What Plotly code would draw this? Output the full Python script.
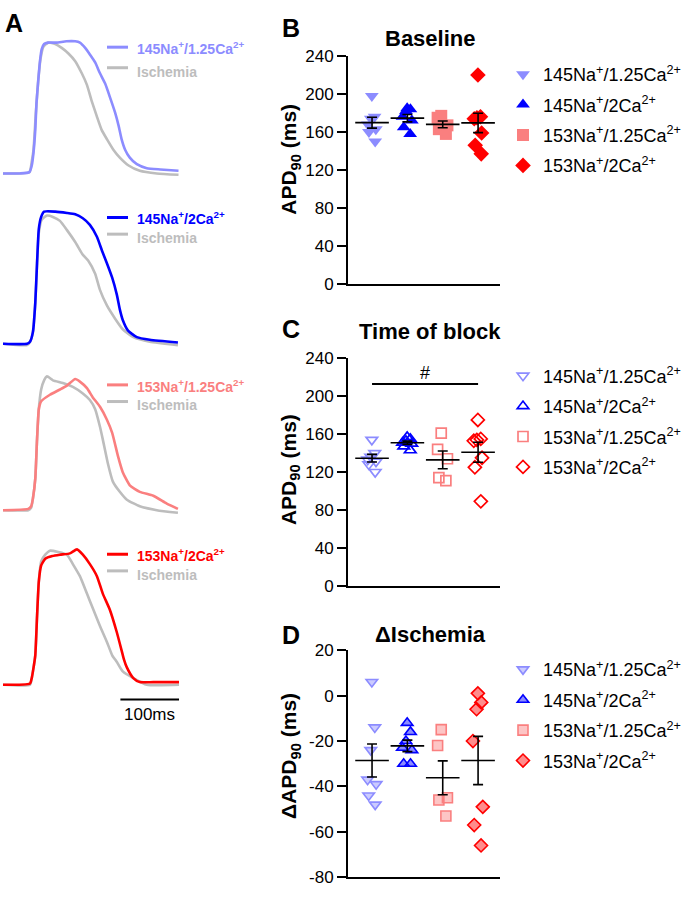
import numpy as np
import plotly.graph_objects as go

W, H = 695, 900
FONT = "Liberation Sans, Arial, Helvetica, sans-serif"

# ---------------- data ----------------
group_names = ["145Na<sup>+</sup>/1.25Ca<sup>2+</sup>", "145Na<sup>+</sup>/2Ca<sup>2+</sup>",
               "153Na<sup>+</sup>/1.25Ca<sup>2+</sup>", "153Na<sup>+</sup>/2Ca<sup>2+</sup>"]
group_pos = [1, 2, 3, 4]
group_colors = ["#8C8CFF", "#0000FF", "#FA7F7F", "#FF0000"]
group_fill_half = ["rgba(140,140,255,0.45)", "rgba(0,0,255,0.45)", "rgba(250,127,127,0.45)", "rgba(255,0,0,0.45)"]
group_symbols = ["triangle-down", "triangle-up", "square", "diamond"]

# Panel B: baseline APD90 (ms)
base_145_125 = [198, 176, 174, 168, 163, 160, 150]
base_145_2 = [185, 184, 182, 176, 172, 165, 158]
base_153_125 = [177, 175, 167, 163, 158]
base_153_2 = [220, 176, 175, 174, 159, 146, 137]
# Panel C: time of block APD90 (ms)
block_145_125 = [154, 140, 136, 133, 131, 128, 120]
block_145_2 = [157, 155, 153, 151, 150, 147, 143]
block_153_125 = [161, 144, 134, 114, 111]
block_153_2 = [175, 155, 154, 153, 135, 125, 89]
# Panel D: delta ischemia APD90 (ms)
d_145_125 = [6, -14, -24, -37, -39, -44, -48]
d_145_2 = [-12, -16, -20, -23, -24, -30, -30]
d_153_125 = [-15, -22, -45, -46, -53]
d_153_2 = [1, -3, -6, -20, -49, -57, -66]

apd_ticks = [0, 40, 80, 120, 160, 200, 240]
d_ticks = [-80, -60, -40, -20, 0, 20]
sig_line_y = 213
sig_text_y = 225

# Panel A: optical action potentials (time in ms, normalized amplitude)
t_145_125 = [0, 29, 45, 49, 52, 55, 57, 60, 63, 66, 70, 77, 91, 108, 123, 131, 140, 148, 157, 165, 174, 182, 191, 197, 202, 208, 216, 228, 245, 268, 299]
v_145_125 = [0, 0, 0.01, 0.06, 0.16, 0.33, 0.53, 0.70, 0.85, 0.94, 0.98, 0.99, 0.99, 1.0, 1.0, 0.99, 0.95, 0.90, 0.84, 0.76, 0.68, 0.58, 0.46, 0.36, 0.26, 0.18, 0.12, 0.07, 0.04, 0.03, 0.02]
t_isch1 = [0, 45, 49, 52, 56, 60, 64, 69, 77, 89, 100, 111, 123, 134, 143, 151, 160, 168, 177, 188, 199, 214, 233, 262, 299]
v_isch1 = [0, 0.01, 0.09, 0.18, 0.46, 0.70, 0.87, 0.96, 0.99, 0.98, 0.95, 0.91, 0.85, 0.76, 0.67, 0.55, 0.43, 0.33, 0.26, 0.18, 0.12, 0.06, 0.02, 0.0, -0.01]

t_145_2 = [0, 41, 46, 51, 55, 58, 61, 65, 70, 89, 109, 123, 136, 148, 160, 169, 177, 186, 194, 199, 204, 213, 228, 250, 298]
v_145_2 = [0, 0, 0.015, 0.09, 0.31, 0.61, 0.87, 0.96, 1.0, 1.0, 0.99, 0.98, 0.95, 0.90, 0.81, 0.70, 0.61, 0.50, 0.37, 0.26, 0.18, 0.10, 0.05, 0.03, 0.01]
t_isch2 = [0, 41, 46, 51, 55, 58, 61, 66, 75, 85, 97, 109, 123, 135, 145, 157, 165, 177, 191, 204, 222, 250, 298]
v_isch2 = [0, -0.01, 0.015, 0.09, 0.31, 0.61, 0.84, 0.94, 0.97, 0.96, 0.93, 0.86, 0.77, 0.68, 0.63, 0.53, 0.41, 0.29, 0.19, 0.11, 0.05, 0.015, -0.01]

t_153_125 = [0, 43, 48, 51, 55, 58, 61, 65, 80, 97, 109, 123, 131, 143, 153, 165, 177, 186, 196, 204, 216, 233, 256, 279, 298]
v_153_125 = [0, 0.01, 0.03, 0.09, 0.24, 0.54, 0.77, 0.83, 0.88, 0.92, 0.95, 1.0, 0.98, 0.93, 0.86, 0.79, 0.69, 0.59, 0.41, 0.29, 0.19, 0.14, 0.11, 0.05, 0.01]
t_isch3 = [0, 43, 48, 51, 55, 58, 61, 65, 70, 75, 85, 102, 119, 136, 148, 157, 165, 170, 179, 187, 199, 211, 233, 262, 298]
v_isch3 = [0, 0, 0.02, 0.09, 0.24, 0.54, 0.77, 0.92, 0.99, 1.02, 0.99, 0.97, 0.94, 0.89, 0.84, 0.77, 0.64, 0.54, 0.35, 0.22, 0.14, 0.08, 0.03, 0, -0.02]

t_153_2 = [0, 46, 49, 51, 55, 58, 61, 65, 72, 84, 97, 114, 126, 136, 148, 160, 170, 182, 194, 203, 206, 211, 222, 233, 256, 300]
v_153_2 = [-0.01, 0, 0.04, 0.09, 0.21, 0.50, 0.76, 0.88, 0.93, 0.95, 0.96, 0.97, 1.0, 0.96, 0.89, 0.80, 0.67, 0.55, 0.38, 0.23, 0.18, 0.12, 0.04, 0.01, 0.01, 0.01]
t_isch4 = [0, 46, 49, 51, 55, 58, 61, 65, 72, 80, 94, 109, 119, 131, 143, 153, 165, 177, 186, 194, 204, 222, 245, 300]
v_isch4 = [-0.01, -0.01, 0.04, 0.09, 0.21, 0.50, 0.76, 0.91, 0.96, 0.99, 0.98, 0.96, 0.89, 0.80, 0.67, 0.56, 0.43, 0.31, 0.21, 0.16, 0.09, 0.04, -0.01, -0.01]

trace_labels = group_names
scale_bar_ms = [200, 300]
scale_bar_level = -0.12

# ---------------- figure ----------------
fig = go.Figure()
layout = dict(width=W, height=H, margin=dict(l=0, r=0, t=0, b=0),
              plot_bgcolor="white", paper_bgcolor="white",
              font=dict(family=FONT, color="black"), showlegend=True)
annotations = []
shapes = []


def ax_id(k):
    return ("x" if k == 1 else f"x{k}"), ("y" if k == 1 else f"y{k}")


def px_ann(x, y, text, size, color="black", xanchor="center", angle=0):
    return dict(x=x / W, y=1 - y / H, xref="paper", yref="paper", text=text,
                showarrow=False, xanchor=xanchor, yanchor="middle", textangle=angle,
                font=dict(size=size, color=color, family=FONT))


# ---- Panel A ----
A_base_px = [168, 342, 512, 689]
A_peak_px = [33, 207, 378, 552]
A_lo = [-0.15, -0.15, -0.15, -0.3]
A_hi = 1.15
A_x0, A_pxms, A_tmax = 3, 0.587, 300
color_traces = [(t_145_125, v_145_125), (t_145_2, v_145_2), (t_153_125, v_153_125), (t_153_2, v_153_2)]
gray_traces = [(t_isch1, v_isch1), (t_isch2, v_isch2), (t_isch3, v_isch3), (t_isch4, v_isch4)]
GRAY = "#BDBDBD"

for i in range(4):
    k = i + 1
    xa, ya = ax_id(k)
    amp = A_base_px[i] - A_peak_px[i]
    top = A_peak_px[i] - (A_hi - 1) * amp
    bottom = A_base_px[i] - A_lo[i] * amp
    layout["xaxis" if k == 1 else f"xaxis{k}"] = dict(
        domain=[A_x0 / W, (A_x0 + A_tmax * A_pxms) / W], range=[0, A_tmax],
        visible=False, anchor=ya)
    layout["yaxis" if k == 1 else f"yaxis{k}"] = dict(
        domain=[1 - bottom / H, 1 - top / H], range=[A_lo[i], A_hi],
        visible=False, anchor=xa)
    tg, vg = gray_traces[i]
    tc, vc = color_traces[i]
    fig.add_trace(go.Scatter(x=tg, y=vg, xaxis=xa, yaxis=ya, mode="lines",
                             line=dict(color=GRAY, width=2.6, shape="spline", smoothing=0.5),
                             showlegend=False, hoverinfo="skip"))
    fig.add_trace(go.Scatter(x=tc, y=vc, xaxis=xa, yaxis=ya, mode="lines",
                             line=dict(color=group_colors[i], width=2.6, shape="spline", smoothing=0.5),
                             showlegend=False, hoverinfo="skip"))

# in-panel labels for A
A_label_line_y = [39, 213, 384, 557]
A_isch_line_y = [60, 230, 401, 574]
for i in range(4):
    for (ly, col, txt, dy) in [(A_label_line_y[i], group_colors[i], "<b>" + trace_labels[i] + "</b>", 1),
                               (A_isch_line_y[i], GRAY, "<b>Ischemia</b>", 4)]:
        shapes.append(dict(type="line", xref="paper", yref="paper",
                           x0=107 / W, x1=128 / W, y0=1 - ly / H, y1=1 - ly / H,
                           line=dict(color=col, width=3)))
        annotations.append(px_ann(135, ly + dy, txt, 14, color=col, xanchor="left"))

# scale bar
fig.add_trace(go.Scatter(x=scale_bar_ms, y=[scale_bar_level] * 2, xaxis="x4", yaxis="y4",
                         mode="lines", line=dict(color="black", width=2),
                         showlegend=False, hoverinfo="skip"))
annotations.append(dict(x=np.mean(scale_bar_ms), y=scale_bar_level - 0.11, xref="x4", yref="y4",
                        text="100ms", showarrow=False, xanchor="center", yanchor="middle",
                        font=dict(size=17, family=FONT)))

# ---- Panels B, C, D ----
panels = [
    dict(k=5, top=48, bottom=281, rng=[0, 240], ticks=apd_ticks,
         data=[base_145_125, base_145_2, base_153_125, base_153_2], style="filled",
         legend="legend", title="Baseline", ytitle="APD<sub>90</sub> (ms)", letter="B",
         title_y=30, letter_y=19, ytitle_y=154),
    dict(k=6, top=357, bottom=589, rng=[0, 240], ticks=apd_ticks,
         data=[block_145_125, block_145_2, block_153_125, block_153_2], style="open",
         legend="legend2", title="Time of block", ytitle="APD<sub>90</sub> (ms)", letter="C",
         title_y=329, letter_y=327, ytitle_y=471),
    dict(k=7, top=655, bottom=887, rng=[-80, 20], ticks=d_ticks,
         data=[d_145_125, d_145_2, d_153_125, d_153_2], style="half",
         legend="legend3", title="\u0394Ischemia", ytitle="\u0394APD<sub>90</sub> (ms)", letter="D",
         title_y=639, letter_y=639, ytitle_y=763),
]

X0_PX, X1_PX = 348, 500
XR = [0.32, 4.62]


def marker_for(style, i):
    if style == "filled":
        return dict(symbol=group_symbols[i], size=12, color=group_colors[i], line=dict(width=0))
    if style == "open":
        return dict(symbol=group_symbols[i] + "-open", size=10, color=group_colors[i],
                    line=dict(width=1.7, color=group_colors[i]))
    return dict(symbol=group_symbols[i], size=10, color=group_fill_half[i],
                line=dict(width=1.6, color=group_colors[i]))


for p in panels:
    k = p["k"]
    xa, ya = ax_id(k)
    layout[f"xaxis{k}"] = dict(domain=[X0_PX / W, X1_PX / W], range=XR, anchor=ya,
                               showline=True, linewidth=2, linecolor="black",
                               showticklabels=False, ticks="", showgrid=False, zeroline=False)
    layout[f"yaxis{k}"] = dict(domain=[1 - p["bottom"] / H, 1 - p["top"] / H], range=p["rng"],
                               anchor=xa, showline=True, linewidth=2, linecolor="black",
                               tickvals=p["ticks"], ticktext=[str(v) for v in p["ticks"]],
                               ticks="outside", ticklen=9, tickwidth=2, tickcolor="black",
                               tickfont=dict(size=17, family=FONT, color="black"),
                               showgrid=False, zeroline=False)
    means, sems = [], []
    for i, vals in enumerate(p["data"]):
        arr = np.array(vals, dtype=float)
        means.append(arr.mean())
        sems.append(arr.std(ddof=1) / np.sqrt(len(arr)))
        fig.add_trace(go.Box(x=[group_pos[i]] * len(vals), y=vals, xaxis=xa, yaxis=ya,
                             boxpoints="all", jitter=0.7, pointpos=0,
                             fillcolor="rgba(0,0,0,0)", line=dict(color="rgba(0,0,0,0)", width=0),
                             whiskerwidth=0, marker=marker_for(p["style"], i),
                             showlegend=False, hoverinfo="y"))
        fig.add_trace(go.Scatter(x=[None], y=[None], xaxis=xa, yaxis=ya, mode="markers",
                                 marker=marker_for(p["style"], i), name=group_names[i],
                                 legend=p["legend"], legendgroup=f"{p['legend']}_{i}",
                                 showlegend=True))
    fig.add_trace(go.Scatter(x=group_pos, y=means, xaxis=xa, yaxis=ya, mode="markers",
                             marker=dict(symbol="line-ew", size=24, color="black",
                                         line=dict(width=1.6, color="black")),
                             error_y=dict(type="data", array=sems, color="black",
                                          thickness=1.6, width=5),
                             showlegend=False, hoverinfo="y"))
    annotations.append(px_ann(430, p["title_y"], "<b>" + p["title"] + "</b>", 22))
    annotations.append(px_ann(291, p["letter_y"], "<b>" + p["letter"] + "</b>", 25))
    annotations.append(px_ann(290, p["ytitle_y"], "<b>" + p["ytitle"] + "</b>", 21, angle=-90))

# significance marker in C
fig.add_trace(go.Scatter(x=[group_pos[0], group_pos[-1]], y=[sig_line_y] * 2, xaxis="x6", yaxis="y6",
                         mode="lines", line=dict(color="black", width=2),
                         showlegend=False, hoverinfo="skip"))
annotations.append(dict(x=np.mean(group_pos), y=sig_text_y, xref="x6", yref="y6", text="#",
                        showarrow=False, xanchor="center", yanchor="middle",
                        font=dict(size=18, family=FONT)))

annotations.append(px_ann(14, 14, "<b>A</b>", 25))

leg_common = dict(xanchor="left", yanchor="top", bgcolor="rgba(0,0,0,0)",
                  font=dict(size=18, family=FONT, color="black"), tracegroupgap=4,
                  traceorder="grouped")
layout["legend"] = dict(x=503 / W, y=1 - 48 / H, **leg_common)
layout["legend2"] = dict(x=503 / W, y=1 - 356 / H, **leg_common)
layout["legend3"] = dict(x=503 / W, y=1 - 656 / H, **leg_common)

layout["annotations"] = annotations
layout["shapes"] = shapes
layout["boxmode"] = "overlay"
fig.update_layout(**layout)

fig.write_html("out.html", post_script="document.body.style.margin='0px';",
               config={"displayModeBar": False})
